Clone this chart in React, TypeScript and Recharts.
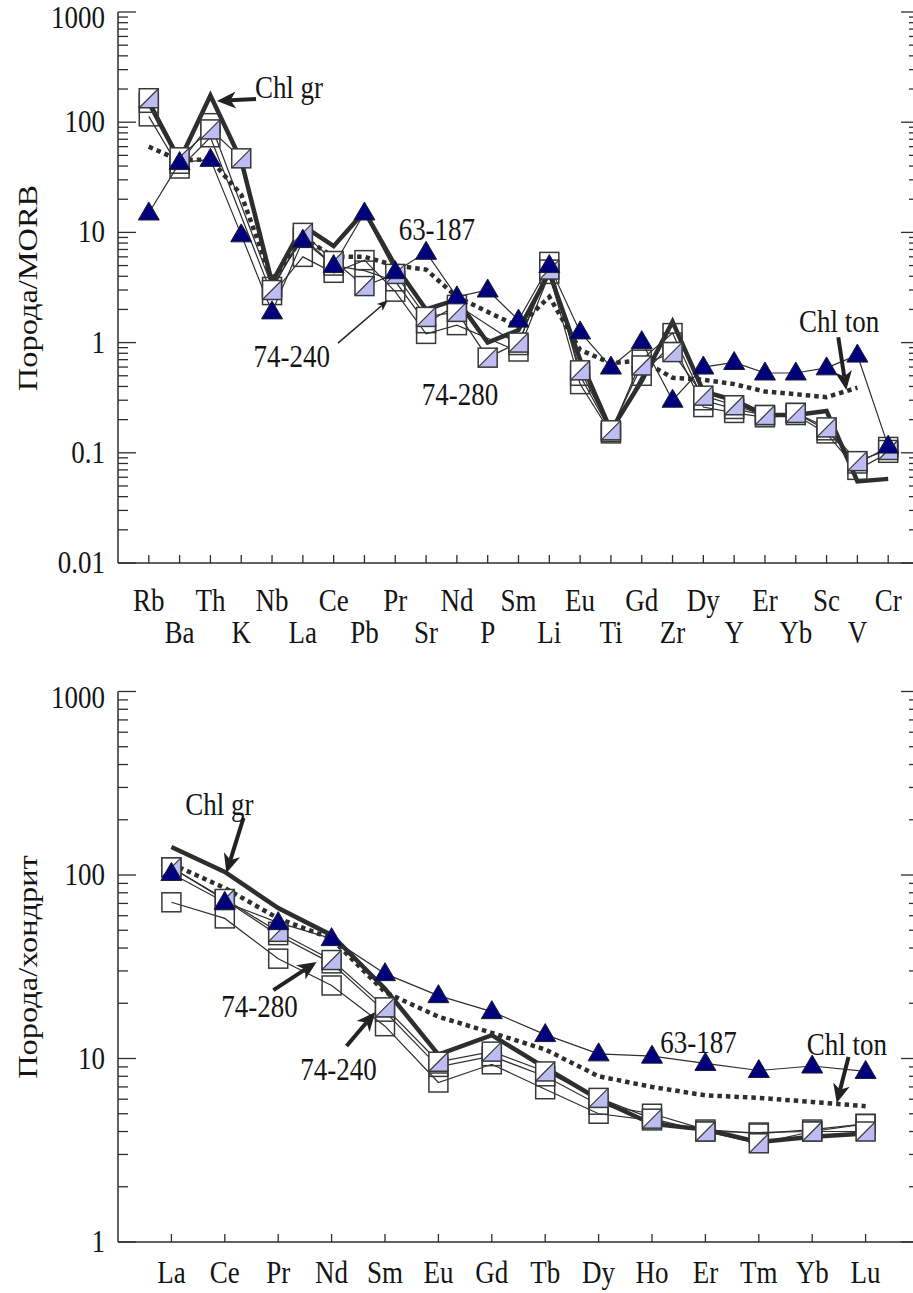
import React from 'react';
import { ComposedChart, Line, XAxis, YAxis, ReferenceLine, ReferenceDot } from 'recharts';

const FONT = '"Liberation Serif", "Times New Roman", Times, serif';
const INK = '#2e2e2e';
const TEXT = '#141414';
const NAVY = '#00007c';
const LAVENDER = '#bdbdf3';

// ---------- Top panel: rock / MORB ----------
const morbElements = ['Rb', 'Ba', 'Th', 'K', 'Nb', 'La', 'Ce', 'Pb', 'Pr', 'Sr', 'Nd', 'P', 'Sm', 'Li', 'Eu', 'Ti', 'Gd', 'Zr', 'Dy', 'Y', 'Er', 'Yb', 'Sc', 'V', 'Cr'];
const morb63_187 = [15, 43, 46, 9.5, 1.9, 8.5, 5.0, 15, 4.4, 6.6, 2.6, 3.0, 1.6, 5.0, 1.25, 0.6, 1.02, 0.3, 0.6, 0.66, 0.53, 0.53, 0.59, 0.77, 0.115];
const morbChlGr = [150, 45, 175, 45, 3.5, 11.5, 7.5, 15.5, 5.0, 2.0, 2.45, 1.0, 1.3, 4.3, 0.7, 0.16, 0.45, 1.55, 0.36, 0.3, 0.22, 0.22, 0.24, 0.055, 0.058];
const morbChlTon = [60, 45, 46, 22, 3.7, 9.0, 6.0, 6.0, 5.0, 4.6, 2.6, 1.9, 1.4, 2.6, 0.86, 0.65, 0.69, 0.48, 0.46, 0.42, 0.36, 0.34, 0.32, 0.39, null];
const morb74_280 = [165, 48, 86, 47, 3.0, 9.9, 5.5, 3.26, 4.2, 1.71, 1.9, 0.73, 1.0, 4.6, 0.56, 0.16, 0.62, 0.82, 0.33, 0.27, 0.22, 0.23, 0.17, 0.084, 0.106];
const morb74_240 = [113, 38, 73, null, 2.7, 6.0, 4.3, 5.6, 2.9, 1.2, 1.44, null, 0.83, 4.2, 0.42, 0.15, 0.5, 1.0, 0.26, 0.23, 0.21, 0.22, 0.15, 0.07, 0.1];
const morbSample3 = [150, 42, 98, null, 3.2, 9.0, 5.0, 4.5, 3.6, 1.5, 2.2, null, 0.95, 5.4, 0.5, 0.155, 0.7, 1.22, 0.3, 0.25, 0.22, 0.23, 0.16, 0.08, 0.113];
const morbMajors = [0.01, 0.1, 1, 10, 100, 1000];

const morbNotes = [
  { text: 'Chl gr', x: 4.55, y: 204 },
  { text: '63-187', x: 9.35, y: 10.5 },
  { text: '74-240', x: 4.64, y: 0.74 },
  { text: '74-280', x: 10.1, y: 0.334 },
  { text: 'Chl ton', x: 22.41, y: 1.54 },
];
const morbArrows = [
  { from: [3.48, 162], to: [2.21, 156], heavy: true },
  { from: [6.14, 0.99], to: [7.76, 2.42], heavy: false },
  { from: [22.38, 1.12], to: [22.64, 0.371], heavy: true },
];

// ---------- Bottom panel: rock / chondrite ----------
const reeElements = ['La', 'Ce', 'Pr', 'Nd', 'Sm', 'Eu', 'Gd', 'Tb', 'Dy', 'Ho', 'Er', 'Tm', 'Yb', 'Lu'];
const ree63_187 = [102, 71, 55, 45, 29, 22, 18, 13.5, 10.6, 10.3, 9.4, 8.6, 9.1, 8.5];
const reeChlGr = [142, 104, 66, 47, 24, 10.5, 13.4, 8.9, 6.0, 4.4, 4.1, 3.5, 3.75, 3.9];
const reeChlTon = [115, 85, 58, 45, 23, 16.9, 13.8, 11.2, 8.0, 7.0, 6.3, 6.1, 5.8, 5.5];
const ree74_280 = [110, 74, 49, 34.4, 19, 9.6, 10.9, 8.5, 6.1, 4.7, 4.0, 3.45, 4.0, 4.0];
const ree74_240 = [71, 58, 35, 25, 15, 7.4, 9.3, 6.8, 5.0, 4.6, 4.0, 3.95, 4.0, 4.4];
const reeSample3 = [110, 73, 47, 33, 18, 9.0, 10.3, 8.0, 5.6, 5.0, 4.1, 3.9, 4.1, 4.4];
const reeMajors = [1, 10, 100, 1000];

const reeNotes = [
  { text: 'Chl gr', x: 0.9, y: 241 },
  { text: '74-280', x: 1.65, y: 19.1 },
  { text: '74-240', x: 3.13, y: 8.65 },
  { text: '63-187', x: 9.87, y: 12.15 },
  { text: 'Chl ton', x: 12.65, y: 11.85 },
];
const reeArrows = [
  { from: [1.35, 205], to: [1.03, 102.6], heavy: true },
  { from: [1.91, 23.6], to: [2.72, 33.6], heavy: true },
  { from: [3.28, 11.7], to: [3.82, 17.9], heavy: true },
  { from: [12.68, 10.2], to: [12.46, 5.72], heavy: true },
];

// ---------- layout ----------
const CHART_W = 940;
const PLOT_LEFT = 118;
const PLOT_RIGHT = 919;
const FS = 27;
const VSTRETCH = 1.15;
const AXIS = { stroke: INK, strokeWidth: 1.5 };

function isMajor(v: number) {
  const l = Math.log10(v);
  return Math.abs(l - Math.round(l)) < 1e-6;
}

function withMinors(majors: number[]) {
  const out: number[] = [];
  majors.forEach((m, k) => {
    out.push(m);
    if (k < majors.length - 1) for (let j = 2; j <= 9; j++) out.push(+(m * j).toPrecision(3));
  });
  return out;
}

const Txt = ({ x, y, anchor, children }: any) => (
  <text transform={`translate(${x},${y}) scale(1,${VSTRETCH})`} textAnchor={anchor} fontFamily={FONT} fontSize={FS} fill={TEXT}>
    {children}
  </text>
);

const leftTick = (topValue: number) => (p: any) => {
  const { x, y, payload } = p;
  const v = payload.value;
  const major = isMajor(v);
  const base = v === topValue ? y + 16 : y + 10;
  return (
    <g>
      <line x1={x} y1={y} x2={x + (major ? 18 : 10)} y2={y} stroke={INK} strokeWidth={1.3} />
      {major && <Txt x={x - 13} y={base} anchor="end">{String(v)}</Txt>}
    </g>
  );
};

const rightTick = (p: any) => {
  const { x, y, payload } = p;
  const major = isMajor(payload.value);
  return <line x1={x} y1={y} x2={x - (major ? 18 : 10)} y2={y} stroke={INK} strokeWidth={1.3} />;
};

const bottomTick = (cats: string[], rows: number[]) => (p: any) => {
  const { x, y, payload } = p;
  const i = Math.round(payload.value);
  return (
    <g>
      <line x1={x} y1={y} x2={x} y2={y - 8} stroke={INK} strokeWidth={1.3} />
      <Txt x={x} y={y + rows[i % rows.length]} anchor="middle">{cats[i]}</Txt>
    </g>
  );
};

const topTick = (p: any) => {
  const { x, y } = p;
  return <line x1={x} y1={y} x2={x} y2={y + 8} stroke={INK} strokeWidth={1.3} />;
};

const bad = (p: any) => p.cx == null || p.cy == null || !Number.isFinite(p.cx) || !Number.isFinite(p.cy) || p.value == null;

const triangleDot = (p: any) => {
  if (bad(p)) return <g key={`t-${p.index}`} />;
  const { cx, cy } = p;
  return (
    <path key={`t-${p.index}`} d={`M${cx},${cy - 11} L${cx + 10.5},${cy + 7} L${cx - 10.5},${cy + 7} Z`} fill={NAVY} stroke="#1c1c30" strokeWidth={1} />
  );
};

const S = 9.5;
const openSquareDot = (p: any) => {
  if (bad(p)) return <g key={`o-${p.index}`} />;
  const { cx, cy } = p;
  return <rect key={`o-${p.index}`} x={cx - S} y={cy - S} width={2 * S} height={2 * S} fill="none" stroke="#383838" strokeWidth={1.5} />;
};

const halfSquareDot = (p: any) => {
  if (bad(p)) return <g key={`h-${p.index}`} />;
  const { cx, cy } = p;
  return (
    <g key={`h-${p.index}`}>
      <rect x={cx - S} y={cy - S} width={2 * S} height={2 * S} fill="#ffffff" />
      <path d={`M${cx + S},${cy - S} L${cx + S},${cy + S} L${cx - S},${cy + S} Z`} fill={LAVENDER} />
      <line x1={cx - S} y1={cy + S} x2={cx + S} y2={cy - S} stroke="#383838" strokeWidth={1.2} />
      <rect x={cx - S} y={cy - S} width={2 * S} height={2 * S} fill="none" stroke="#383838" strokeWidth={1.5} />
    </g>
  );
};

const arrowShape = (heavy: boolean) => (p: any) => {
  const { x1, y1, x2, y2 } = p;
  if (![x1, y1, x2, y2].every((v) => Number.isFinite(v))) return <g />;
  const dx = x2 - x1;
  const dy = y2 - y1;
  const len = Math.hypot(dx, dy) || 1;
  const ux = dx / len;
  const uy = dy / len;
  const nx = -uy;
  const ny = ux;
  const hl = heavy ? 19 : 11;
  const hw = heavy ? 8.5 : 4.5;
  const bx = x2 - ux * hl;
  const by = y2 - uy * hl;
  const nxp = x2 - ux * hl * 0.72;
  const nyp = y2 - uy * hl * 0.72;
  return (
    <g>
      <line x1={x1} y1={y1} x2={nxp} y2={nyp} stroke="#222" strokeWidth={heavy ? 4 : 1.5} />
      <path d={`M${x2},${y2} L${bx + nx * hw},${by + ny * hw} L${nxp},${nyp} L${bx - nx * hw},${by - ny * hw} Z`} fill="#222" />
    </g>
  );
};

const noteShape = (text: string) => (p: any) => {
  if (!Number.isFinite(p.cx) || !Number.isFinite(p.cy)) return <g />;
  return <Txt x={p.cx} y={p.cy + 10} anchor="middle">{text}</Txt>;
};

type Note = { text: string; x: number; y: number };
type Arrow = { from: number[]; to: number[]; heavy: boolean };

function Panel(props: {
  cats: string[];
  s63: (number | null)[];
  gr: (number | null)[];
  ton: (number | null)[];
  a280: (number | null)[];
  a240: (number | null)[];
  a3: (number | null)[];
  majors: number[];
  chartH: number;
  marginTop: number;
  xAxisH: number;
  labelRows: number[];
  notes: Note[];
  arrows: Arrow[];
}) {
  const { cats, majors } = props;
  const data = cats.map((name, i) => ({
    i,
    name,
    t63: props.s63[i],
    chlGr: props.gr[i],
    chlTon: props.ton[i],
    s280: props.a280[i],
    s240: props.a240[i],
    s3: props.a3[i],
  }));
  const xTicks = cats.map((_, i) => i);
  const xDomain: [number, number] = [-1, cats.length];
  const yDomain: [number, number] = [majors[0], majors[majors.length - 1]];
  const yTicks = withMinors(majors);
  const thin = { stroke: INK, strokeWidth: 1.2, isAnimationActive: false, activeDot: false as const, type: 'linear' as const };
  return (
    <ComposedChart width={CHART_W} height={props.chartH} data={data} margin={{ top: props.marginTop, right: 0, bottom: 0, left: 0 }}>
      <XAxis
        xAxisId={0}
        dataKey="i"
        type="number"
        domain={xDomain}
        allowDataOverflow
        ticks={xTicks}
        interval={0}
        tickSize={0}
        tickMargin={0}
        height={props.xAxisH}
        axisLine={AXIS}
        tickLine={false}
        tick={bottomTick(cats, props.labelRows)}
      />
      <XAxis
        xAxisId="top"
        orientation="top"
        dataKey="i"
        type="number"
        domain={xDomain}
        allowDataOverflow
        ticks={xTicks}
        interval={0}
        tickSize={0}
        tickMargin={0}
        height={0}
        axisLine={AXIS}
        tickLine={false}
        tick={topTick}
      />
      <YAxis
        yAxisId={0}
        type="number"
        scale="log"
        domain={yDomain}
        allowDataOverflow
        ticks={yTicks}
        interval={0}
        width={PLOT_LEFT}
        tickSize={0}
        tickMargin={0}
        axisLine={AXIS}
        tickLine={false}
        tick={leftTick(yDomain[1])}
      />
      <YAxis
        yAxisId="right"
        orientation="right"
        type="number"
        scale="log"
        domain={yDomain}
        allowDataOverflow
        ticks={yTicks}
        interval={0}
        width={CHART_W - PLOT_RIGHT}
        tickSize={0}
        tickMargin={0}
        axisLine={AXIS}
        tickLine={false}
        tick={rightTick}
      />
      <Line dataKey="chlTon" stroke={INK} strokeWidth={4.5} strokeDasharray="4.5 4" dot={false} activeDot={false} isAnimationActive={false} type="linear" />
      <Line dataKey="chlGr" stroke={INK} strokeWidth={4.5} dot={false} activeDot={false} isAnimationActive={false} type="linear" />
      <Line dataKey="s240" {...thin} connectNulls dot={openSquareDot} />
      <Line dataKey="s3" {...thin} connectNulls dot={openSquareDot} />
      <Line dataKey="s280" {...thin} connectNulls dot={halfSquareDot} />
      <Line dataKey="t63" {...thin} dot={triangleDot} />
      {props.arrows.map((a, k) => (
        <ReferenceLine
          key={`a${k}`}
          segment={[{ x: a.from[0], y: a.from[1] }, { x: a.to[0], y: a.to[1] }]}
          ifOverflow="visible"
          shape={arrowShape(a.heavy)}
        />
      ))}
      {props.notes.map((n, k) => (
        <ReferenceDot key={`n${k}`} x={n.x} y={n.y} r={4} ifOverflow="visible" shape={noteShape(n.text)} />
      ))}
    </ComposedChart>
  );
}

export default function App() {
  return (
    <div style={{ position: 'relative', width: 913, height: 1293, overflow: 'hidden', background: '#fff' }}>
      <style>{`html,body{margin:0;padding:0;overflow:hidden;background:#fff}`}</style>
      <div style={{ position: 'absolute', left: 0, top: 0 }}>
        <Panel
          cats={morbElements}
          s63={morb63_187}
          gr={morbChlGr}
          ton={morbChlTon}
          a280={morb74_280}
          a240={morb74_240}
          a3={morbSample3}
          majors={morbMajors}
          chartH={660}
          marginTop={12}
          xAxisH={97}
          labelRows={[48, 80]}
          notes={morbNotes}
          arrows={morbArrows}
        />
      </div>
      <div style={{ position: 'absolute', left: 0, top: 660 }}>
        <Panel
          cats={reeElements}
          s63={ree63_187}
          gr={reeChlGr}
          ton={reeChlTon}
          a280={ree74_280}
          a240={ree74_240}
          a3={reeSample3}
          majors={reeMajors}
          chartH={633}
          marginTop={31.5}
          xAxisH={51}
          labelRows={[41]}
          notes={reeNotes}
          arrows={reeArrows}
        />
      </div>
      <svg width={913} height={1293} style={{ position: 'absolute', left: 0, top: 0, pointerEvents: 'none' }}>
        <text transform={`translate(37,288) rotate(-90) scale(1.2,1)`} textAnchor="middle" fontFamily={FONT} fontSize={FS} fill={TEXT}>
          Порода/MORB
        </text>
        <text transform={`translate(37,967) rotate(-90) scale(1.2,1)`} textAnchor="middle" fontFamily={FONT} fontSize={FS} fill={TEXT}>
          Порода/хондрит
        </text>
      </svg>
    </div>
  );
}
